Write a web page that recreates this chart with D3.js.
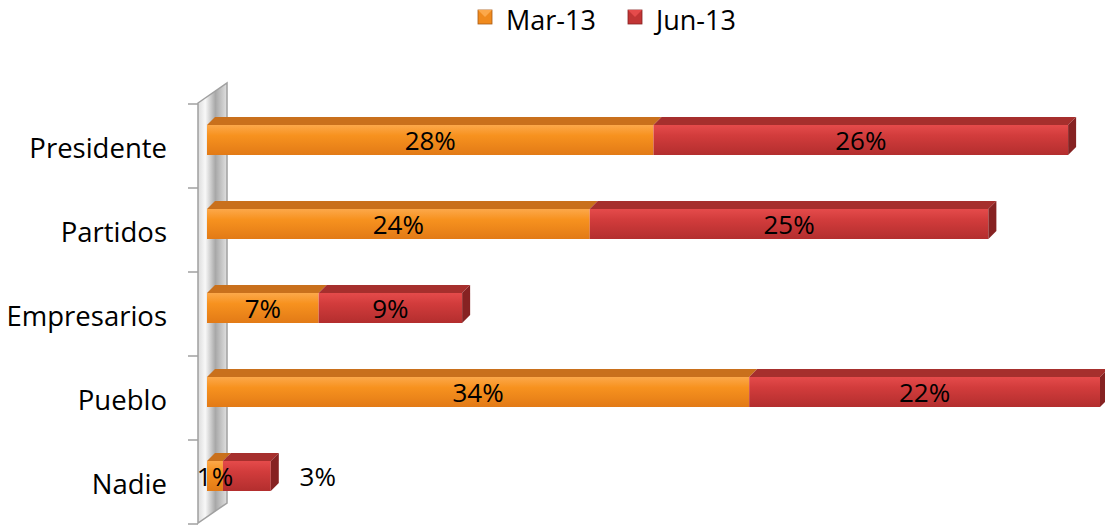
<!DOCTYPE html>
<html>
<head>
<meta charset="utf-8">
<script src="https://cdn.jsdelivr.net/npm/d3@7"></script>
<style>
  body { margin: 0; background: #fff; }
  svg { display: block; font-family: "Open Sans", sans-serif; }
</style>
</head>
<body>
<svg id="chart" width="1105" height="527"></svg>
<script>
'use strict';

// data
const categories = ['Presidente', 'Partidos', 'Empresarios', 'Pueblo', 'Nadie'];
const seriesNames = ['Mar-13', 'Jun-13'];
const mar13 = [0.28, 0.24, 0.07, 0.34, 0.01];
const jun13 = [0.26, 0.25, 0.09, 0.22, 0.03];

const svg = d3.select('#chart');
const defs = svg.append('defs');

const colors = [
    {front: ['#fca84a', '#f7921f', '#e27a16'], top: '#c9701c', side: '#a85a14', swatch: '#f08a1d'},
    {front: ['#e54b4b', '#d23c3c', '#b32e2e'], top: '#a62f2d', side: '#862222', swatch: '#c23535'}
];

colors.forEach((c, i) => {
    const g = defs.append('linearGradient')
        .attr('id', 'front' + i).attr('x1', 0).attr('y1', 0).attr('x2', 0).attr('y2', 1);
    g.append('stop').attr('offset', '0%').attr('stop-color', c.front[0]);
    g.append('stop').attr('offset', '35%').attr('stop-color', c.front[1]);
    g.append('stop').attr('offset', '100%').attr('stop-color', c.front[2]);
});

const wallGrad = defs.append('linearGradient')
    .attr('id', 'wall').attr('x1', 0).attr('y1', 0).attr('x2', 1).attr('y2', 0);
wallGrad.append('stop').attr('offset', '0%').attr('stop-color', '#dcdcdc');
wallGrad.append('stop').attr('offset', '25%').attr('stop-color', '#f8f8f8');
wallGrad.append('stop').attr('offset', '60%').attr('stop-color', '#a8a8a8');
wallGrad.append('stop').attr('offset', '100%').attr('stop-color', '#e0e0e0');

// scales
const x = d3.scaleLinear().domain([0, 0.56]).range([207, 1100]);
const y = d3.scaleBand().domain(categories).range([105, 525]);
const barTop = 20, barH = 30, depth = 8;
const wallDx = 29, wallDy = -20;
const fmt = d3.format('.0%');

// back wall
const wx = 198, y0 = y.range()[0] - 2, y1 = y.range()[1] - 2;
svg.append('path')
    .attr('d', `M${wx},${y0}L${wx + wallDx},${y0 + wallDy}L${wx + wallDx},${y1 + wallDy}L${wx},${y1}Z`)
    .attr('fill', 'url(#wall)')
    .attr('stroke', '#a0a0a0')
    .attr('stroke-width', 1.5);

// axis ticks
const ticks = categories.map(c => y(c)).concat([y.range()[1]]);
svg.append('g').selectAll('line')
    .data(ticks)
    .enter().append('line')
    .attr('x1', wx - 10).attr('x2', wx)
    .attr('y1', d => d - 1).attr('y2', d => d - 1)
    .attr('stroke', '#a0a0a0')
    .attr('stroke-width', 1.5);

// category labels
svg.append('g').selectAll('text')
    .data(categories)
    .enter().append('text')
    .attr('x', 167)
    .attr('y', d => y(d) + 53)
    .attr('text-anchor', 'end')
    .attr('font-size', 27.5)
    .attr('fill', '#000')
    .text(d => d);

// stacked bars
const rows = categories.map((c, i) => ({cat: c, vals: [mar13[i], jun13[i]]}));

rows.forEach(r => {
    const top = y(r.cat) + barTop;
    let acc = 0;
    const g = svg.append('g');
    r.vals.forEach((v, s) => {
        const xa = x(acc), xb = x(acc + v);
        acc += v;
        // top face
        g.append('path')
            .attr('d', `M${xa},${top}L${xa + depth},${top - depth}L${xb + depth},${top - depth}L${xb},${top}Z`)
            .attr('fill', colors[s].top);
        // front face
        g.append('rect')
            .attr('x', xa).attr('y', top)
            .attr('width', xb - xa).attr('height', barH)
            .attr('fill', `url(#front${s})`);
        // side face on the end
        if (s === r.vals.length - 1) {
            g.append('path')
                .attr('d', `M${xb},${top}L${xb + depth},${top - depth}L${xb + depth},${top + barH - depth}L${xb},${top + barH}Z`)
                .attr('fill', colors[s].side);
        }
    });
    // labels
    acc = 0;
    r.vals.forEach((v, s) => {
        const xa = x(acc), xb = x(acc + v);
        acc += v;
        let lx = (xa + xb) / 2;
        if (s === r.vals.length - 1 && xb - xa < 60) lx = xb + 47; // small end label sits outside
        g.append('text')
            .attr('x', lx)
            .attr('y', top + 25)
            .attr('text-anchor', 'middle')
            .attr('font-size', 26)
            .attr('fill', '#000')
            .text(fmt(v));
    });
});

// legend
const legendX = [478, 628];
const legend = svg.append('g');
seriesNames.forEach((n, i) => {
    const lg = legend.append('g').attr('transform', `translate(${legendX[i]},10)`);
    lg.append('rect').attr('width', 14).attr('height', 14)
        .attr('fill', colors[i].swatch).attr('stroke', colors[i].side).attr('stroke-width', 0.8);
    lg.append('path').attr('d', 'M0,0L7,7L14,0Z').attr('fill', colors[i].front[0]);
    lg.append('text')
        .attr('x', 28).attr('y', 20)
        .attr('font-size', 27)
        .attr('fill', '#000')
        .text(n);
});
</script>
</body>
</html>
